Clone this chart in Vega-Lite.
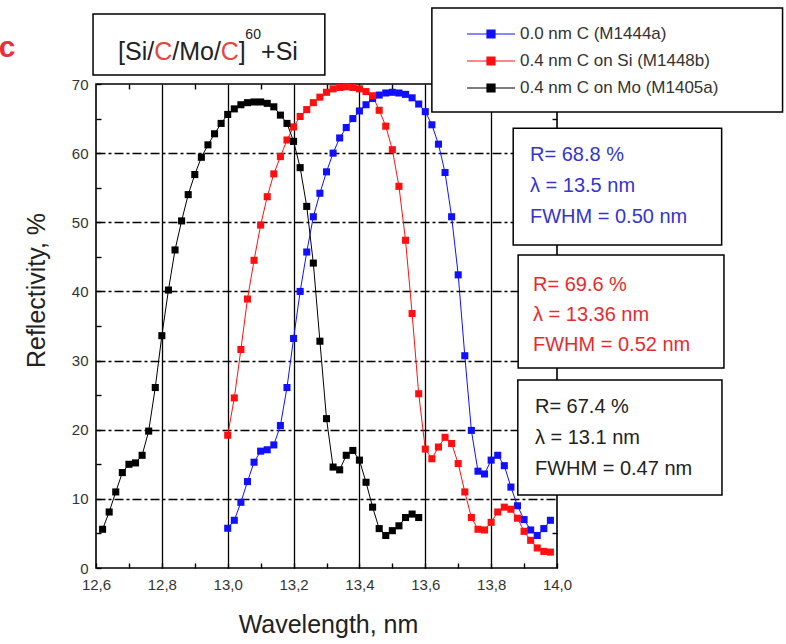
{
  "$schema": "https://vega.github.io/schema/vega-lite/v6.json",
  "width": 461,
  "height": 484,
  "autosize": {"type": "none"},
  "padding": {"left": 96, "top": 84, "right": 229, "bottom": 76},
  "background": "white",
  "config": {
    "view": {"stroke": "#000", "strokeWidth": 1.6},
    "font": "Liberation Sans",
    "axis": {"labelFont": "Liberation Sans", "titleFont": "Liberation Sans", "domain": false}
  },
  "resolve": {"axis": {"x": "independent", "y": "independent"}},
  "datasets": {
    "anchor": [{}],
    "spectra": [
      {"sample": "M1444a", "wl": 13.00, "R": 5.75}, {"sample": "M1444a", "wl": 13.02, "R": 6.9}, {"sample": "M1444a", "wl": 13.04, "R": 9.5},
      {"sample": "M1444a", "wl": 13.06, "R": 12.5}, {"sample": "M1444a", "wl": 13.08, "R": 15.3}, {"sample": "M1444a", "wl": 13.10, "R": 16.9},
      {"sample": "M1444a", "wl": 13.12, "R": 17.1}, {"sample": "M1444a", "wl": 13.14, "R": 17.8}, {"sample": "M1444a", "wl": 13.16, "R": 20.6},
      {"sample": "M1444a", "wl": 13.18, "R": 26.1}, {"sample": "M1444a", "wl": 13.20, "R": 33.2}, {"sample": "M1444a", "wl": 13.22, "R": 40.0},
      {"sample": "M1444a", "wl": 13.24, "R": 45.7}, {"sample": "M1444a", "wl": 13.26, "R": 50.8}, {"sample": "M1444a", "wl": 13.28, "R": 54.2},
      {"sample": "M1444a", "wl": 13.30, "R": 57.3}, {"sample": "M1444a", "wl": 13.32, "R": 60.0}, {"sample": "M1444a", "wl": 13.34, "R": 62.2},
      {"sample": "M1444a", "wl": 13.36, "R": 63.7}, {"sample": "M1444a", "wl": 13.38, "R": 65.0}, {"sample": "M1444a", "wl": 13.40, "R": 66.1},
      {"sample": "M1444a", "wl": 13.42, "R": 67.0}, {"sample": "M1444a", "wl": 13.44, "R": 67.9}, {"sample": "M1444a", "wl": 13.46, "R": 68.4},
      {"sample": "M1444a", "wl": 13.48, "R": 68.7}, {"sample": "M1444a", "wl": 13.50, "R": 68.8}, {"sample": "M1444a", "wl": 13.52, "R": 68.7},
      {"sample": "M1444a", "wl": 13.54, "R": 68.5}, {"sample": "M1444a", "wl": 13.56, "R": 68.0}, {"sample": "M1444a", "wl": 13.58, "R": 67.1},
      {"sample": "M1444a", "wl": 13.60, "R": 66.0}, {"sample": "M1444a", "wl": 13.62, "R": 64.1}, {"sample": "M1444a", "wl": 13.64, "R": 61.3},
      {"sample": "M1444a", "wl": 13.66, "R": 57.2}, {"sample": "M1444a", "wl": 13.68, "R": 50.8}, {"sample": "M1444a", "wl": 13.70, "R": 42.4},
      {"sample": "M1444a", "wl": 13.72, "R": 30.7}, {"sample": "M1444a", "wl": 13.74, "R": 19.9}, {"sample": "M1444a", "wl": 13.76, "R": 14.0},
      {"sample": "M1444a", "wl": 13.78, "R": 13.6}, {"sample": "M1444a", "wl": 13.80, "R": 15.6}, {"sample": "M1444a", "wl": 13.82, "R": 16.3},
      {"sample": "M1444a", "wl": 13.84, "R": 14.8}, {"sample": "M1444a", "wl": 13.86, "R": 11.7}, {"sample": "M1444a", "wl": 13.88, "R": 9.0},
      {"sample": "M1444a", "wl": 13.90, "R": 7.0}, {"sample": "M1444a", "wl": 13.92, "R": 5.5}, {"sample": "M1444a", "wl": 13.94, "R": 4.7},
      {"sample": "M1444a", "wl": 13.96, "R": 5.7}, {"sample": "M1444a", "wl": 13.98, "R": 6.9},

      {"sample": "M1448b", "wl": 13.00, "R": 19.2}, {"sample": "M1448b", "wl": 13.02, "R": 24.6}, {"sample": "M1448b", "wl": 13.04, "R": 31.6},
      {"sample": "M1448b", "wl": 13.06, "R": 38.9}, {"sample": "M1448b", "wl": 13.08, "R": 44.5}, {"sample": "M1448b", "wl": 13.10, "R": 49.6},
      {"sample": "M1448b", "wl": 13.12, "R": 53.7}, {"sample": "M1448b", "wl": 13.14, "R": 57.0}, {"sample": "M1448b", "wl": 13.16, "R": 59.5},
      {"sample": "M1448b", "wl": 13.18, "R": 61.9}, {"sample": "M1448b", "wl": 13.20, "R": 63.8}, {"sample": "M1448b", "wl": 13.22, "R": 65.3},
      {"sample": "M1448b", "wl": 13.24, "R": 66.3}, {"sample": "M1448b", "wl": 13.26, "R": 67.3}, {"sample": "M1448b", "wl": 13.28, "R": 68.1},
      {"sample": "M1448b", "wl": 13.30, "R": 68.8}, {"sample": "M1448b", "wl": 13.32, "R": 69.3}, {"sample": "M1448b", "wl": 13.34, "R": 69.5},
      {"sample": "M1448b", "wl": 13.36, "R": 69.6}, {"sample": "M1448b", "wl": 13.38, "R": 69.5}, {"sample": "M1448b", "wl": 13.40, "R": 69.3},
      {"sample": "M1448b", "wl": 13.42, "R": 68.9}, {"sample": "M1448b", "wl": 13.44, "R": 68.3}, {"sample": "M1448b", "wl": 13.46, "R": 66.2},
      {"sample": "M1448b", "wl": 13.48, "R": 63.9}, {"sample": "M1448b", "wl": 13.50, "R": 60.5}, {"sample": "M1448b", "wl": 13.52, "R": 55.2},
      {"sample": "M1448b", "wl": 13.54, "R": 47.4}, {"sample": "M1448b", "wl": 13.56, "R": 36.8}, {"sample": "M1448b", "wl": 13.58, "R": 25.2},
      {"sample": "M1448b", "wl": 13.60, "R": 17.2}, {"sample": "M1448b", "wl": 13.62, "R": 15.8}, {"sample": "M1448b", "wl": 13.64, "R": 17.5},
      {"sample": "M1448b", "wl": 13.66, "R": 18.9}, {"sample": "M1448b", "wl": 13.68, "R": 18.0}, {"sample": "M1448b", "wl": 13.70, "R": 15.1},
      {"sample": "M1448b", "wl": 13.72, "R": 11.0}, {"sample": "M1448b", "wl": 13.74, "R": 7.3}, {"sample": "M1448b", "wl": 13.76, "R": 5.6},
      {"sample": "M1448b", "wl": 13.78, "R": 5.5}, {"sample": "M1448b", "wl": 13.80, "R": 6.6}, {"sample": "M1448b", "wl": 13.82, "R": 8.1},
      {"sample": "M1448b", "wl": 13.84, "R": 8.8}, {"sample": "M1448b", "wl": 13.86, "R": 8.5}, {"sample": "M1448b", "wl": 13.88, "R": 7.2},
      {"sample": "M1448b", "wl": 13.90, "R": 5.3}, {"sample": "M1448b", "wl": 13.92, "R": 4.0}, {"sample": "M1448b", "wl": 13.94, "R": 2.9},
      {"sample": "M1448b", "wl": 13.96, "R": 2.4}, {"sample": "M1448b", "wl": 13.98, "R": 2.3},

      {"sample": "M1405a", "wl": 12.62, "R": 5.6}, {"sample": "M1405a", "wl": 12.64, "R": 8.1}, {"sample": "M1405a", "wl": 12.66, "R": 11.0},
      {"sample": "M1405a", "wl": 12.68, "R": 13.8}, {"sample": "M1405a", "wl": 12.70, "R": 15.0}, {"sample": "M1405a", "wl": 12.72, "R": 15.2},
      {"sample": "M1405a", "wl": 12.74, "R": 16.3}, {"sample": "M1405a", "wl": 12.76, "R": 19.8}, {"sample": "M1405a", "wl": 12.78, "R": 26.1},
      {"sample": "M1405a", "wl": 12.80, "R": 33.6}, {"sample": "M1405a", "wl": 12.82, "R": 40.2}, {"sample": "M1405a", "wl": 12.84, "R": 46.0},
      {"sample": "M1405a", "wl": 12.86, "R": 50.2}, {"sample": "M1405a", "wl": 12.88, "R": 54.0}, {"sample": "M1405a", "wl": 12.90, "R": 56.9},
      {"sample": "M1405a", "wl": 12.92, "R": 59.4}, {"sample": "M1405a", "wl": 12.94, "R": 61.2}, {"sample": "M1405a", "wl": 12.96, "R": 62.8},
      {"sample": "M1405a", "wl": 12.98, "R": 64.3}, {"sample": "M1405a", "wl": 13.00, "R": 65.6}, {"sample": "M1405a", "wl": 13.02, "R": 66.4},
      {"sample": "M1405a", "wl": 13.04, "R": 67.0}, {"sample": "M1405a", "wl": 13.06, "R": 67.3}, {"sample": "M1405a", "wl": 13.08, "R": 67.4},
      {"sample": "M1405a", "wl": 13.10, "R": 67.4}, {"sample": "M1405a", "wl": 13.12, "R": 67.2}, {"sample": "M1405a", "wl": 13.14, "R": 66.7},
      {"sample": "M1405a", "wl": 13.16, "R": 65.5}, {"sample": "M1405a", "wl": 13.18, "R": 64.3}, {"sample": "M1405a", "wl": 13.20, "R": 61.7},
      {"sample": "M1405a", "wl": 13.22, "R": 57.9}, {"sample": "M1405a", "wl": 13.24, "R": 52.3}, {"sample": "M1405a", "wl": 13.26, "R": 44.1},
      {"sample": "M1405a", "wl": 13.28, "R": 32.8}, {"sample": "M1405a", "wl": 13.30, "R": 21.6}, {"sample": "M1405a", "wl": 13.32, "R": 14.6},
      {"sample": "M1405a", "wl": 13.34, "R": 14.2}, {"sample": "M1405a", "wl": 13.36, "R": 16.3}, {"sample": "M1405a", "wl": 13.38, "R": 17.0},
      {"sample": "M1405a", "wl": 13.40, "R": 15.6}, {"sample": "M1405a", "wl": 13.42, "R": 12.4}, {"sample": "M1405a", "wl": 13.44, "R": 8.8},
      {"sample": "M1405a", "wl": 13.46, "R": 5.7}, {"sample": "M1405a", "wl": 13.48, "R": 4.7}, {"sample": "M1405a", "wl": 13.50, "R": 5.4},
      {"sample": "M1405a", "wl": 13.52, "R": 6.1}, {"sample": "M1405a", "wl": 13.54, "R": 7.3}, {"sample": "M1405a", "wl": 13.56, "R": 7.8},
      {"sample": "M1405a", "wl": 13.58, "R": 7.3}
    ]
  },
  "layer": [
    {
      "data": {"name": "spectra"},
      "mark": {"type": "line", "strokeWidth": 1},
      "encoding": {
        "x": {
          "field": "wl", "type": "quantitative",
          "scale": {"domain": [12.6, 14.0], "nice": false, "zero": false},
          "axis": {
            "orient": "bottom",
            "values": [12.6, 12.7, 12.8, 12.9, 13.0, 13.1, 13.2, 13.3, 13.4, 13.5, 13.6, 13.7, 13.8, 13.9, 14.0],
            "labelExpr": "round(datum.value * 10) % 2 == 0 ? replace(format(datum.value, '.1f'), '.', ',') : ''",
            "labelFontSize": 15, "labelColor": "#333", "labelPadding": 14,
            "labelFlush": false, "labelOverlap": false,
            "ticks": true, "tickSize": -5, "tickColor": "#000", "tickWidth": 1.4, "domain": false,
            "grid": true, "gridColor": "#000", "gridWidth": 1.3,
            "gridOpacity": {"condition": {"test": "round(datum.value * 10) % 2 == 1 || datum.value < 12.65 || datum.value > 13.95", "value": 0}, "value": 1},
            "title": "Wavelength, nm", "titleFontSize": 25, "titleFontWeight": "normal", "titleColor": "#222",
            "titleX": 232, "titleY": 64, "titleAlign": "center", "titleBaseline": "alphabetic"
          }
        },
        "y": {
          "field": "R", "type": "quantitative",
          "scale": {"domain": [0, 70], "nice": false, "zero": false},
          "axis": {
            "orient": "left",
            "values": [0, 5, 10, 15, 20, 25, 30, 35, 40, 45, 50, 55, 60, 65, 70],
            "labelExpr": "datum.value % 10 == 0 ? datum.value : ''",
            "labelFontSize": 15, "labelColor": "#333", "labelPadding": 13,
            "ticks": true, "tickSize": -5, "tickColor": "#000", "tickWidth": 1.4, "domain": false,
            "grid": true, "gridColor": "#000", "gridWidth": 1.3, "gridDash": [9, 3, 3, 3],
            "gridOpacity": {"condition": {"test": "datum.value % 10 != 0 || datum.value < 1 || datum.value > 69", "value": 0}, "value": 1},
            "title": "Reflectivity, %", "titleFontSize": 25, "titleFontWeight": "normal", "titleColor": "#222",
            "titleX": -52, "titleY": 206, "titleAngle": -90, "titleAlign": "center", "titleBaseline": "alphabetic"
          }
        },
        "color": {
          "field": "sample", "type": "nominal",
          "scale": {"domain": ["M1444a", "M1448b", "M1405a"], "range": ["#1010ff", "#ff1010", "#000000"]},
          "legend": {
            "title": null, "orient": "none", "legendX": 384, "legendY": -61,
            "labelExpr": "datum.value == 'M1444a' ? '0.0 nm C (M1444a)' : datum.value == 'M1448b' ? '0.4 nm C on Si (M1448b)' : '0.4 nm C on Mo (M1405a)'",
            "symbolType": "M-2.4,0H2.4M-0.4,-0.4H0.4V0.4H-0.4Z",
            "symbolSize": 400, "symbolStrokeWidth": 1.2, "symbolOffset": 0,
            "labelFont": "Liberation Sans", "labelFontSize": 17, "labelColor": "#333", "labelOffset": 18, "labelLimit": 400,
            "rowPadding": 8, "padding": 0,
            "encode": {"symbols": {"update": {
              "fill": {"scale": "color", "field": "value"},
              "stroke": {"scale": "color", "field": "value"},
              "opacity": {"value": 1}
            }}}
          }
        }
      }
    },
    {
      "data": {"name": "spectra"},
      "mark": {"type": "point", "shape": "square", "filled": true, "size": 50, "opacity": 1},
      "encoding": {
        "x": {"field": "wl", "type": "quantitative", "scale": {"domain": [12.6, 14.0], "nice": false, "zero": false},
              "axis": {"orient": "top", "values": [12.7, 12.9, 13.1, 13.3, 13.5, 13.7, 13.9], "labels": false, "grid": false, "domain": false,
                       "ticks": true, "tickSize": -5, "tickColor": "#000", "tickWidth": 1.4, "title": null}},
        "y": {"field": "R", "type": "quantitative", "scale": {"domain": [0, 70], "nice": false, "zero": false},
              "axis": {"orient": "right", "values": [5, 15, 25, 35, 45, 55, 65], "labels": false, "grid": false, "domain": false,
                       "ticks": true, "tickSize": -5, "tickColor": "#000", "tickWidth": 1.4, "title": null}},
        "color": {
          "field": "sample", "type": "nominal",
          "scale": {"domain": ["M1444a", "M1448b", "M1405a"], "range": ["#1010ff", "#ff1010", "#000000"]},
          "legend": {
            "title": null, "orient": "none", "legendX": 384, "legendY": -61,
            "labelExpr": "datum.value == 'M1444a' ? '0.0 nm C (M1444a)' : datum.value == 'M1448b' ? '0.4 nm C on Si (M1448b)' : '0.4 nm C on Mo (M1405a)'",
            "symbolType": "M-2.4,0H2.4M-0.4,-0.4H0.4V0.4H-0.4Z",
            "symbolSize": 400, "symbolStrokeWidth": 1.2, "symbolOffset": 0,
            "labelFont": "Liberation Sans", "labelFontSize": 17, "labelColor": "#333", "labelOffset": 18, "labelLimit": 400,
            "rowPadding": 8, "padding": 0,
            "encode": {"symbols": {"update": {
              "fill": {"scale": "color", "field": "value"},
              "stroke": {"scale": "color", "field": "value"},
              "opacity": {"value": 1}
            }}}
          }
        }
      }
    },
    {
      "data": {"name": "anchor"},
      "mark": {"type": "rect", "fill": "white", "stroke": "#000", "strokeWidth": 1.5},
      "encoding": {
        "x": {"datum": 12.591, "type": "quantitative", "scale": {"domain": [12.6, 14.0], "nice": false, "zero": false}, "axis": null},
        "x2": {"datum": 13.295},
        "y": {"datum": 80.13, "type": "quantitative", "scale": {"domain": [0, 70], "nice": false, "zero": false}, "axis": null},
        "y2": {"datum": 71.30}
      }
    },
    {
      "data": {"name": "anchor"},
      "mark": {"type": "rect", "fill": "white", "stroke": "#000", "strokeWidth": 1.5},
      "encoding": {
        "x": {"datum": 13.620, "type": "quantitative", "scale": {"domain": [12.6, 14.0], "nice": false, "zero": false}, "axis": null},
        "x2": {"datum": 14.685},
        "y": {"datum": 81.0, "type": "quantitative", "scale": {"domain": [0, 70], "nice": false, "zero": false}, "axis": null},
        "y2": {"datum": 65.95}
      }
    },
    {
      "data": {"name": "anchor"},
      "mark": {"type": "rect", "fill": "white", "stroke": "#000", "strokeWidth": 1.5},
      "encoding": {
        "x": {"datum": 13.867, "type": "quantitative", "scale": {"domain": [12.6, 14.0], "nice": false, "zero": false}, "axis": null},
        "x2": {"datum": 14.500},
        "y": {"datum": 63.60, "type": "quantitative", "scale": {"domain": [0, 70], "nice": false, "zero": false}, "axis": null},
        "y2": {"datum": 46.72}
      }
    },
    {
      "data": {"name": "anchor"},
      "mark": {"type": "rect", "fill": "white", "stroke": "#000", "strokeWidth": 1.5},
      "encoding": {
        "x": {"datum": 13.882, "type": "quantitative", "scale": {"domain": [12.6, 14.0], "nice": false, "zero": false}, "axis": null},
        "x2": {"datum": 14.507},
        "y": {"datum": 45.27, "type": "quantitative", "scale": {"domain": [0, 70], "nice": false, "zero": false}, "axis": null},
        "y2": {"datum": 28.93}
      }
    },
    {
      "data": {"name": "anchor"},
      "mark": {"type": "rect", "fill": "white", "stroke": "#000", "strokeWidth": 1.5},
      "encoding": {
        "x": {"datum": 13.881, "type": "quantitative", "scale": {"domain": [12.6, 14.0], "nice": false, "zero": false}, "axis": null},
        "x2": {"datum": 14.501},
        "y": {"datum": 27.19, "type": "quantitative", "scale": {"domain": [0, 70], "nice": false, "zero": false}, "axis": null},
        "y2": {"datum": 10.56}
      }
    },
    {
      "data": {"name": "anchor"},
      "mark": {"type": "text", "text": ["R= 68.8 %", "λ = 13.5 nm", "FWHM = 0.50 nm"], "align": "left", "baseline": "alphabetic",
               "font": "Liberation Sans", "fontSize": 20, "lineHeight": 31, "color": "#3434d0"},
      "encoding": {
        "x": {"datum": 13.918, "type": "quantitative", "scale": {"domain": [12.6, 14.0], "nice": false, "zero": false}, "axis": null},
        "y": {"datum": 58.87, "type": "quantitative", "scale": {"domain": [0, 70], "nice": false, "zero": false}, "axis": null}
      }
    },
    {
      "data": {"name": "anchor"},
      "mark": {"type": "text", "text": ["R= 69.6 %", "λ = 13.36 nm", "FWHM = 0.52 nm"], "align": "left", "baseline": "alphabetic",
               "font": "Liberation Sans", "fontSize": 20, "lineHeight": 30, "color": "#e82a2e"},
      "encoding": {
        "x": {"datum": 13.927, "type": "quantitative", "scale": {"domain": [12.6, 14.0], "nice": false, "zero": false}, "axis": null},
        "y": {"datum": 40.06, "type": "quantitative", "scale": {"domain": [0, 70], "nice": false, "zero": false}, "axis": null}
      }
    },
    {
      "data": {"name": "anchor"},
      "mark": {"type": "text", "text": ["R= 67.4 %", "λ = 13.1 nm", "FWHM = 0.47 nm"], "align": "left", "baseline": "alphabetic",
               "font": "Liberation Sans", "fontSize": 20, "lineHeight": 31, "color": "#222222"},
      "encoding": {
        "x": {"datum": 13.933, "type": "quantitative", "scale": {"domain": [12.6, 14.0], "nice": false, "zero": false}, "axis": null},
        "y": {"datum": 22.42, "type": "quantitative", "scale": {"domain": [0, 70], "nice": false, "zero": false}, "axis": null}
      }
    },
    {
      "data": {"name": "anchor"},
      "mark": {"type": "text", "text": "[Si/", "align": "left", "baseline": "alphabetic", "font": "Liberation Sans", "fontSize": 25, "color": "#222", "dx": 0},
      "encoding": {
        "x": {"datum": 12.667, "type": "quantitative", "scale": {"domain": [12.6, 14.0], "nice": false, "zero": false}, "axis": null},
        "y": {"datum": 73.47, "type": "quantitative", "scale": {"domain": [0, 70], "nice": false, "zero": false}, "axis": null}
      }
    },
    {
      "data": {"name": "anchor"},
      "mark": {"type": "text", "text": "C", "align": "left", "baseline": "alphabetic", "font": "Liberation Sans", "fontSize": 25, "color": "#e8463c", "dx": 36.1},
      "encoding": {
        "x": {"datum": 12.667, "type": "quantitative", "scale": {"domain": [12.6, 14.0], "nice": false, "zero": false}, "axis": null},
        "y": {"datum": 73.47, "type": "quantitative", "scale": {"domain": [0, 70], "nice": false, "zero": false}, "axis": null}
      }
    },
    {
      "data": {"name": "anchor"},
      "mark": {"type": "text", "text": "/Mo/", "align": "left", "baseline": "alphabetic", "font": "Liberation Sans", "fontSize": 25, "color": "#222", "dx": 54.2},
      "encoding": {
        "x": {"datum": 12.667, "type": "quantitative", "scale": {"domain": [12.6, 14.0], "nice": false, "zero": false}, "axis": null},
        "y": {"datum": 73.47, "type": "quantitative", "scale": {"domain": [0, 70], "nice": false, "zero": false}, "axis": null}
      }
    },
    {
      "data": {"name": "anchor"},
      "mark": {"type": "text", "text": "C", "align": "left", "baseline": "alphabetic", "font": "Liberation Sans", "fontSize": 25, "color": "#e8463c", "dx": 102.8},
      "encoding": {
        "x": {"datum": 12.667, "type": "quantitative", "scale": {"domain": [12.6, 14.0], "nice": false, "zero": false}, "axis": null},
        "y": {"datum": 73.47, "type": "quantitative", "scale": {"domain": [0, 70], "nice": false, "zero": false}, "axis": null}
      }
    },
    {
      "data": {"name": "anchor"},
      "mark": {"type": "text", "text": "]", "align": "left", "baseline": "alphabetic", "font": "Liberation Sans", "fontSize": 25, "color": "#222", "dx": 120.8},
      "encoding": {
        "x": {"datum": 12.667, "type": "quantitative", "scale": {"domain": [12.6, 14.0], "nice": false, "zero": false}, "axis": null},
        "y": {"datum": 73.47, "type": "quantitative", "scale": {"domain": [0, 70], "nice": false, "zero": false}, "axis": null}
      }
    },
    {
      "data": {"name": "anchor"},
      "mark": {"type": "text", "text": "60", "align": "left", "baseline": "alphabetic", "font": "Liberation Sans", "fontSize": 14, "color": "#222", "dx": 127.3, "dy": -21},
      "encoding": {
        "x": {"datum": 12.667, "type": "quantitative", "scale": {"domain": [12.6, 14.0], "nice": false, "zero": false}, "axis": null},
        "y": {"datum": 73.47, "type": "quantitative", "scale": {"domain": [0, 70], "nice": false, "zero": false}, "axis": null}
      }
    },
    {
      "data": {"name": "anchor"},
      "mark": {"type": "text", "text": "+Si", "align": "left", "baseline": "alphabetic", "font": "Liberation Sans", "fontSize": 25, "color": "#222", "dx": 143},
      "encoding": {
        "x": {"datum": 12.667, "type": "quantitative", "scale": {"domain": [12.6, 14.0], "nice": false, "zero": false}, "axis": null},
        "y": {"datum": 73.47, "type": "quantitative", "scale": {"domain": [0, 70], "nice": false, "zero": false}, "axis": null}
      }
    },
    {
      "data": {"name": "anchor"},
      "mark": {"type": "text", "text": "c", "align": "left", "baseline": "alphabetic", "font": "Liberation Sans", "fontSize": 30, "fontWeight": "bold", "color": "#e8303a"},
      "encoding": {
        "x": {"datum": 12.305, "type": "quantitative", "scale": {"domain": [12.6, 14.0], "nice": false, "zero": false}, "axis": null},
        "y": {"datum": 73.9, "type": "quantitative", "scale": {"domain": [0, 70], "nice": false, "zero": false}, "axis": null}
      }
    }
  ]
}
